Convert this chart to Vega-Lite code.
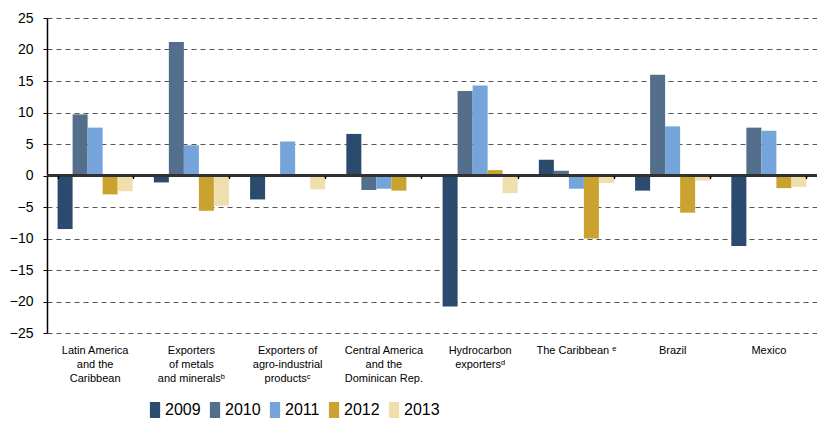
{
  "$schema": "https://vega.github.io/schema/vega-lite/v6.json",
  "width": 770,
  "height": 315,
  "autosize": {"type": "none"},
  "padding": {"left": 47, "top": 18, "right": 0, "bottom": 88},
  "background": "white",
  "config": {
    "view": {"stroke": null},
    "font": "Liberation Sans",
    "axis": {"labelFont": "Liberation Sans", "labelColor": "#000"},
    "legend": {"labelFont": "Liberation Sans"}
  },
  "data": {
    "values": [
      {"cat": "Latin America|and the|Caribbean", "year": "2009", "value": -8.5},
      {"cat": "Latin America|and the|Caribbean", "year": "2010", "value": 9.7},
      {"cat": "Latin America|and the|Caribbean", "year": "2011", "value": 7.6},
      {"cat": "Latin America|and the|Caribbean", "year": "2012", "value": -3.0},
      {"cat": "Latin America|and the|Caribbean", "year": "2013", "value": -2.5},
      {"cat": "Exporters|of metals|and mineralsᵇ", "year": "2009", "value": -1.1},
      {"cat": "Exporters|of metals|and mineralsᵇ", "year": "2010", "value": 21.2},
      {"cat": "Exporters|of metals|and mineralsᵇ", "year": "2011", "value": 4.8},
      {"cat": "Exporters|of metals|and mineralsᵇ", "year": "2012", "value": -5.6},
      {"cat": "Exporters|of metals|and mineralsᵇ", "year": "2013", "value": -4.8},
      {"cat": "Exporters of|agro-industrial|productsᶜ", "year": "2009", "value": -3.8},
      {"cat": "Exporters of|agro-industrial|productsᶜ", "year": "2010", "value": 0.0},
      {"cat": "Exporters of|agro-industrial|productsᶜ", "year": "2011", "value": 5.4},
      {"cat": "Exporters of|agro-industrial|productsᶜ", "year": "2012", "value": -0.1},
      {"cat": "Exporters of|agro-industrial|productsᶜ", "year": "2013", "value": -2.2},
      {"cat": "Central America|and the|Dominican Rep.", "year": "2009", "value": 6.6},
      {"cat": "Central America|and the|Dominican Rep.", "year": "2010", "value": -2.3},
      {"cat": "Central America|and the|Dominican Rep.", "year": "2011", "value": -2.1},
      {"cat": "Central America|and the|Dominican Rep.", "year": "2012", "value": -2.4},
      {"cat": "Central America|and the|Dominican Rep.", "year": "2013", "value": -0.3},
      {"cat": "Hydrocarbon|exportersᵈ", "year": "2009", "value": -20.8},
      {"cat": "Hydrocarbon|exportersᵈ", "year": "2010", "value": 13.4},
      {"cat": "Hydrocarbon|exportersᵈ", "year": "2011", "value": 14.3},
      {"cat": "Hydrocarbon|exportersᵈ", "year": "2012", "value": 0.85},
      {"cat": "Hydrocarbon|exportersᵈ", "year": "2013", "value": -2.8},
      {"cat": "The Caribbean ᵉ", "year": "2009", "value": 2.5},
      {"cat": "The Caribbean ᵉ", "year": "2010", "value": 0.75},
      {"cat": "The Caribbean ᵉ", "year": "2011", "value": -2.1},
      {"cat": "The Caribbean ᵉ", "year": "2012", "value": -10.0},
      {"cat": "The Caribbean ᵉ", "year": "2013", "value": -1.2},
      {"cat": "Brazil", "year": "2009", "value": -2.4},
      {"cat": "Brazil", "year": "2010", "value": 16.0},
      {"cat": "Brazil", "year": "2011", "value": 7.8},
      {"cat": "Brazil", "year": "2012", "value": -5.9},
      {"cat": "Brazil", "year": "2013", "value": -0.8},
      {"cat": "Mexico", "year": "2009", "value": -11.2},
      {"cat": "Mexico", "year": "2010", "value": 7.6},
      {"cat": "Mexico", "year": "2011", "value": 7.1},
      {"cat": "Mexico", "year": "2012", "value": -2.0},
      {"cat": "Mexico", "year": "2013", "value": -1.8}
    ]
  },
  "layer": [
    {
      "mark": {"type": "bar"},
      "encoding": {
        "x": {
          "field": "cat", "type": "nominal", "sort": null,
          "scale": {"paddingInner": 0.22, "paddingOuter": 0.11},
          "axis": {
            "title": null, "orient": "bottom", "domain": false, "ticks": false,
            "labelAngle": 0, "labelFontSize": 11, "labelLineHeight": 14,
            "labelBaseline": "top", "labelPadding": 11, "labelLimit": 0,
            "labelOverlap": false, "zindex": 0,
            "labelExpr": "split(datum.label, '|')"
          }
        },
        "xOffset": {"field": "year", "type": "nominal", "scale": {"paddingInner": 0}},
        "y": {
          "field": "value", "type": "quantitative",
          "scale": {"domain": [-25, 25], "nice": false},
          "axis": {
            "title": null, "values": [-25, -20, -15, -10, -5, 0, 5, 10, 15, 20, 25],
            "labelOverlap": false, "zindex": 0,
            "domain": true, "domainColor": "#000", "domainWidth": 1.5,
            "ticks": true, "tickColor": "#000", "tickSize": 4,
            "grid": true, "gridColor": "#555", "gridDash": [5, 4], "gridWidth": 1.2,
            "labelFontSize": 14, "labelPadding": 10
          }
        },
        "color": {
          "field": "year", "type": "nominal",
          "scale": {"domain": ["2009", "2010", "2011", "2012", "2013"],
                    "range": ["#2a4a6e", "#536f8b", "#74a4da", "#c9a22f", "#eedfad"]},
          "legend": {
            "title": null, "orient": "none", "direction": "horizontal",
            "legendX": 100, "legendY": 384,
            "symbolType": "M-0.64,-1H0.64V1H-0.64Z", "symbolSize": 256,
            "symbolStrokeWidth": 0, "labelFontSize": 16, "labelOffset": 2,
            "columnPadding": 6, "labelColor": "#000"
          }
        }
      }
    },
    {
      "mark": {"type": "rule", "color": "#333", "strokeWidth": 1.5},
      "encoding": {
        "y": {
          "datum": 0, "type": "quantitative",
          "axis": {
            "title": null, "values": [-25, -20, -15, -10, -5, 0, 5, 10, 15, 20, 25],
            "labelOverlap": false, "zindex": 0,
            "domain": true, "domainColor": "#000", "domainWidth": 1.5,
            "ticks": true, "tickColor": "#000", "tickSize": 4,
            "grid": true, "gridColor": "#555", "gridDash": [5, 4], "gridWidth": 1.2,
            "labelFontSize": 14, "labelPadding": 10
          }
        }
      }
    },
    {
      "mark": {"type": "tick", "opacity": 0},
      "encoding": {
        "x": {
          "field": "cat", "type": "nominal", "sort": null,
          "axis": {
            "title": null, "orient": "bottom", "offset": -157.5, "labels": false,
            "domain": false, "ticks": true, "tickBand": "extent", "tickSize": 3,
            "tickColor": "#000", "tickWidth": 1.5, "zindex": 1
          }
        },
        "y": {
          "datum": 0, "type": "quantitative",
          "axis": {
            "title": null, "values": [-25, -20, -15, -10, -5, 0, 5, 10, 15, 20, 25],
            "labelOverlap": false, "zindex": 0,
            "domain": true, "domainColor": "#000", "domainWidth": 1.5,
            "ticks": true, "tickColor": "#000", "tickSize": 4,
            "grid": true, "gridColor": "#555", "gridDash": [5, 4], "gridWidth": 1.2,
            "labelFontSize": 14, "labelPadding": 10
          }
        }
      }
    }
  ],
  "resolve": {"axis": {"x": "independent"}}
}
